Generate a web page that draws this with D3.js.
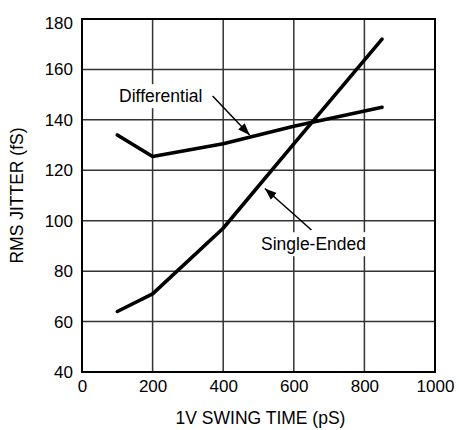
<!DOCTYPE html>
<html>
<head>
<meta charset="utf-8">
<script src="https://cdn.jsdelivr.net/npm/d3@7"></script>
<style>
    body { margin: 0; background: #fff; }
    text { font-family: "Liberation Sans", Arial, sans-serif; fill: #000; }
</style>
</head>
<body>
<div id="chart"></div>
<script>
'use strict';

// Werte
var swingTime = [100, 200, 400, 600, 850];
var differential = [134, 125.5, 130.5, 137.5, 145];
var singleEnded = [64, 71, 97, 130.5, 172];

var xTicks = [0, 200, 400, 600, 800, 1000];
var yTicks = [40, 60, 80, 100, 120, 140, 160, 180];

// Beschriftungen mit Pfeil: [Text, Textpos x, y, Pfeil von x, y, nach x, y]
var annotations = [
    ["Differential", 105, 147, 370, 149.5, 475, 134],
    ["Single-Ended", 507, 88.3, 650, 96.3, 518, 112.8]
];

var width = 459,
    height = 430,
    margin = { top: 19, right: 24, bottom: 58, left: 82 };

var svg = d3.select("#chart")
    .append("svg")
    .attr("width", width)
    .attr("height", height);

svg.append("defs").append("marker")
    .attr("id", "arrowhead")
    .attr("viewBox", "0 -5 12 10")
    .attr("refX", 12)
    .attr("refY", 0)
    .attr("orient", "auto")
    .attr("markerUnits", "userSpaceOnUse")
    .attr("markerWidth", 12)
    .attr("markerHeight", 10)
    .append("path")
    .attr("d", "M 0,-4.5 L 12,0 L 0,4.5 Z")
    .attr("fill", "#000");

var x = d3.scaleLinear()
    .domain([0, 1000])
    .range([margin.left, width - margin.right]);

var y = d3.scaleLinear()
    .domain([40, 180])
    .range([height - margin.bottom, margin.top]);

// Gitter
var grid = svg.append("g").attr("class", "grid");

grid.selectAll("line.v")
    .data(xTicks.slice(1, -1))
    .enter().append("line")
    .attr("class", "v")
    .attr("x1", d => x(d)).attr("x2", d => x(d))
    .attr("y1", y(40)).attr("y2", y(180))
    .attr("stroke", "#333")
    .attr("stroke-width", 1.5);

grid.selectAll("line.h")
    .data(yTicks.slice(1, -1))
    .enter().append("line")
    .attr("class", "h")
    .attr("x1", x(0)).attr("x2", x(1000))
    .attr("y1", d => y(d)).attr("y2", d => y(d))
    .attr("stroke", "#333")
    .attr("stroke-width", 1.5);

// Achsen (nur Beschriftung)
var xAxis = svg.append("g")
    .attr("transform", "translate(0," + y(40) + ")")
    .call(d3.axisBottom(x).tickValues(xTicks).tickFormat(d3.format("d")).tickSize(0).tickPadding(8));

var yAxis = svg.append("g")
    .attr("transform", "translate(" + x(0) + ",0)")
    .call(d3.axisLeft(y).tickValues(yTicks).tickFormat(d3.format("d")).tickSize(0).tickPadding(9));

[xAxis, yAxis].forEach(function (a) {
    a.select(".domain").remove();
    a.selectAll("text")
        .style("font-size", "17px")
        .style("font-family", "'Liberation Sans', Arial, sans-serif")
        .attr("fill", "#000");
});
yAxis.selectAll("text")
    .filter(d => d === 180)
    .attr("dy", "0.55em");

// Rahmen
svg.append("rect")
    .attr("x", x(0))
    .attr("y", y(180))
    .attr("width", x(1000) - x(0))
    .attr("height", y(40) - y(180))
    .attr("fill", "none")
    .attr("stroke", "#000")
    .attr("stroke-width", 2);

// Kurven
var line = d3.line()
    .x(d => x(d[0]))
    .y(d => y(d[1]));

[differential, singleEnded].forEach(function (series) {
    svg.append("path")
        .datum(swingTime.map((t, i) => [t, series[i]]))
        .attr("d", line)
        .attr("fill", "none")
        .attr("stroke", "#000")
        .attr("stroke-width", 3.6)
        .attr("stroke-linecap", "round")
        .attr("stroke-linejoin", "round");
});

// Beschriftungen mit weissem Hintergrund
var notes = svg.append("g").attr("class", "notes");

annotations.forEach(function (a) {
    var g = notes.append("g");
    var bg = g.append("rect").attr("fill", "#fff");
    var t = g.append("text")
        .attr("x", x(a[1]))
        .attr("y", y(a[2]))
        .style("font-size", "17.5px")
        .text(a[0]);
    var bb = t.node().getBBox();
    bg.attr("x", bb.x - 3)
        .attr("y", bb.y - 2)
        .attr("width", bb.width + 6)
        .attr("height", bb.height + 4);

    g.append("line")
        .attr("x1", x(a[3])).attr("y1", y(a[4]))
        .attr("x2", x(a[5])).attr("y2", y(a[6]))
        .attr("stroke", "#000")
        .attr("stroke-width", 1.5)
        .attr("marker-end", "url(#arrowhead)");
});

// Achsentitel
svg.append("text")
    .attr("x", (x(0) + x(1000)) / 2 + 2)
    .attr("y", 424)
    .attr("text-anchor", "middle")
    .style("font-size", "17.5px")
    .text("1V SWING TIME (pS)");

svg.append("text")
    .attr("transform", "translate(23," + ((y(40) + y(180)) / 2) + ") rotate(-90)")
    .attr("text-anchor", "middle")
    .style("font-size", "17.5px")
    .text("RMS JITTER (fS)");
</script>
</body>
</html>
